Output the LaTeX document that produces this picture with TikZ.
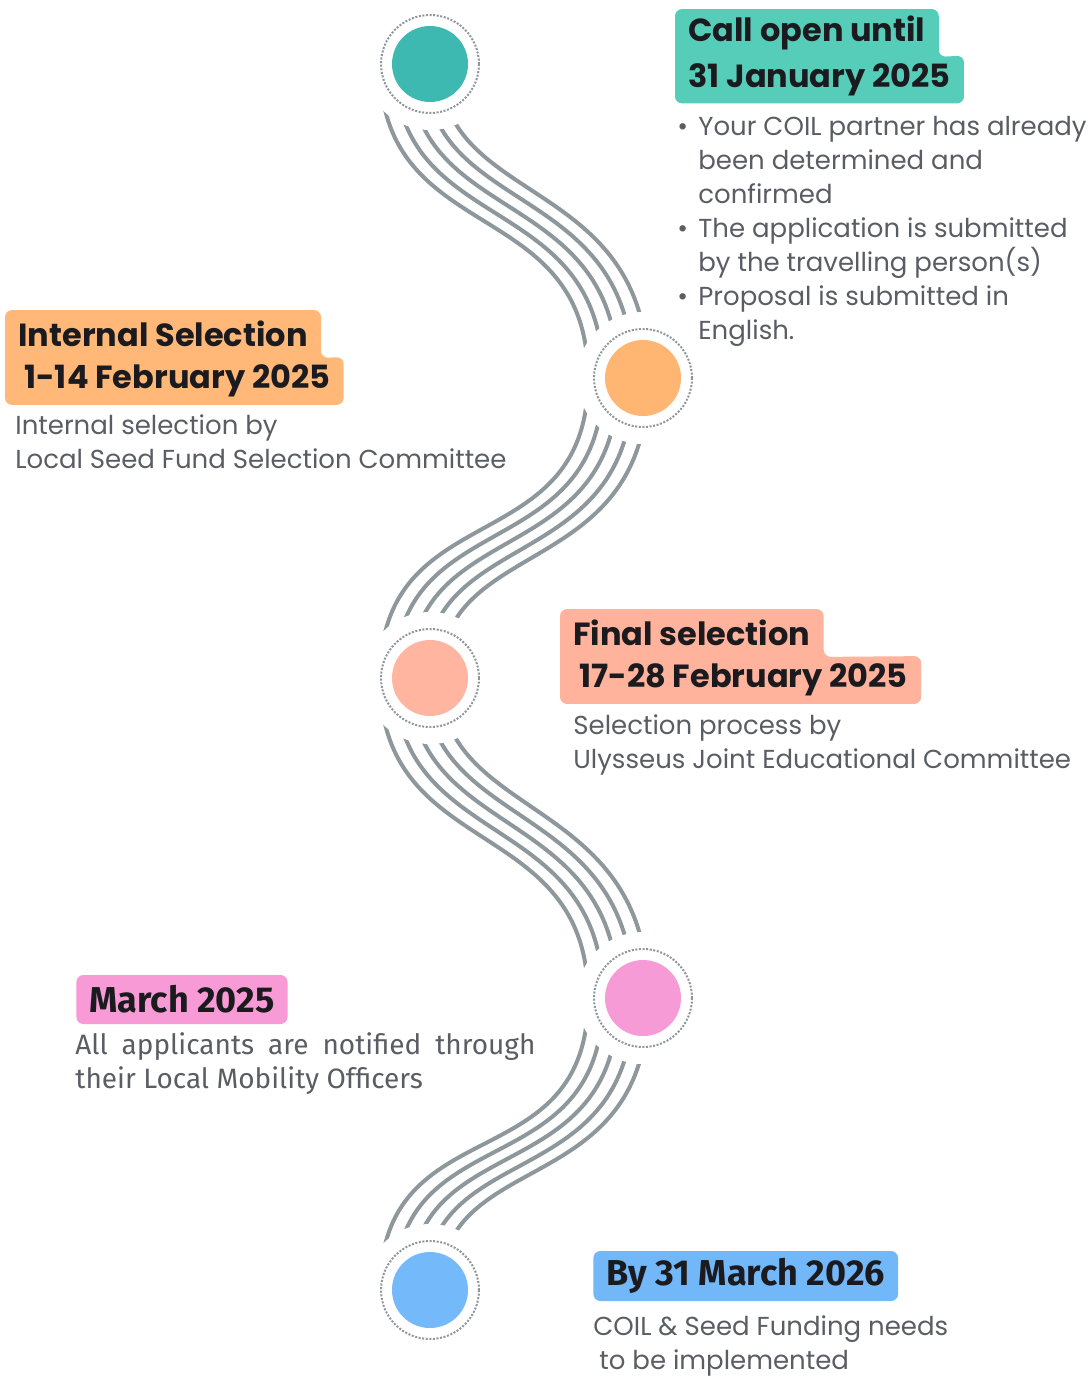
\documentclass[tikz,border=0pt]{standalone}
\usepackage{fontspec}
\setmainfont{Poppins}
\newfontfamily\firafont{Fira Sans}
\usetikzlibrary{calc, backgrounds}

\definecolor{bandgray}{HTML}{8E979B}
\definecolor{ringgray}{HTML}{8F979B}
\definecolor{ink}{HTML}{1B1B1F}
\definecolor{bodyink}{HTML}{5B5D64}
\definecolor{tealdot}{HTML}{3DB9B1}
\definecolor{tealbox}{HTML}{55CDB9}
\definecolor{orangedot}{HTML}{FFB672}
\definecolor{orangebox}{HTML}{FFB877}
\definecolor{salmondot}{HTML}{FFB59F}
\definecolor{salmonbox}{HTML}{FFB29C}
\definecolor{pinkdot}{HTML}{F79BD7}
\definecolor{pinkbox}{HTML}{F79AD5}
\definecolor{bluedot}{HTML}{74B9F9}
\definecolor{bluebox}{HTML}{72B7F8}

% five parallel strands between a left dot and a right dot
% #1 left dot, #2 right dot, #3 = 1 if the left dot is on top, -1 if below
\newcommand{\wavyband}[3]{%
  \foreach \d in {-30,-15,0,15,30}{
    \draw[band] ($(#1)+({(\d)-20},0)$)
      .. controls ($(#1)+({(\d)-20},{(#3)*(165-0.667*(\d))})$)
      and ($(#2)+({(\d)-25},{0-(#3)*(195+0.333*(\d))})$)
      .. ($(#2)+({(\d)-25},0)$);
  }}

\begin{document}
\begin{tikzpicture}[x=0.5pt, y=-0.5pt,
  band/.style={draw=bandgray, line width=2pt},
  ring/.style={draw=ringgray, line width=1pt, dash pattern=on 1pt off 0.8pt},
  dot/.style={circle, minimum size=38pt, inner sep=0pt},
  tline/.style={anchor=west, font=\bfseries\fontsize{16}{19}\selectfont, text=ink,
    inner xsep=6.5pt, inner ysep=0pt, minimum height=23.5pt},
  tfira/.style={tline, font=\firafont\bfseries\fontsize{18}{21}\selectfont},
  body/.style={anchor=base west, align=left, font=\fontsize{13}{17}\selectfont,
    text=bodyink, inner sep=0pt},
]
\useasboundingbox (0,0) rectangle (1089,1376);

% stage dots
\node[dot, fill=tealdot]   (c1) at (430,64)   {};
\node[dot, fill=orangedot] (c2) at (643,378)  {};
\node[dot, fill=salmondot] (c3) at (430,678)  {};
\node[dot, fill=pinkdot]   (c4) at (643,998)  {};
\node[dot, fill=bluedot]   (c5) at (430,1290) {};
\foreach \n in {1,...,5}
  \draw[ring] (c\n) circle (49);

% wavy strands, cut short round the dots
\begin{scope}[on background layer]
  \wavyband{c1}{c2}{1}
  \wavyband{c3}{c2}{-1}
  \wavyband{c3}{c4}{1}
  \wavyband{c5}{c4}{-1}
  \foreach \n in {1,...,5}
    \fill[white] (c\n) circle (66);
\end{scope}

% call open (base = last line)
\node[tline] (t1a) at (675,33)   {Call open until};
\node[tline] (t1b) at (675,79.5) {31 January 2025};
\node[body] (b1) at (677,339) {\makebox[10.5pt][l]{\textbullet}Your COIL partner has already\\
  \hspace*{10.5pt}been determined and\\
  \hspace*{10.5pt}confirmed\\
  \makebox[10.5pt][l]{\textbullet}The application is submitted\\
  \hspace*{10.5pt}by the travelling person(s)\\
  \makebox[10.5pt][l]{\textbullet}Proposal is submitted in\\
  \hspace*{10.5pt}English.};

% internal selection
\node[tline] (t2a) at (5,334) {Internal Selection};
\node[tline] (t2b) at (5,381) {\hspace*{3pt}1-14 February 2025};
\node[body] (b2) at (15,468) {Internal selection by\\Local Seed Fund Selection Committee};

% final selection
\node[tline] (t3a) at (560,633) {Final selection};
\node[tline] (t3b) at (560,680) {\hspace*{3pt}17-28 February 2025};
\node[body] (b3) at (573,768) {Selection process by\\Ulysseus Joint Educational Committee};

% notification
\node[tfira, fill=pinkbox, rounded corners=3.5pt, minimum height=24.5pt] (t4) at (76,999.5) {March 2025};
\node[body, font=\firafont\fontsize{14}{17}\selectfont] (b4) at (75,1088)
  {\makebox[230pt][s]{All applicants are notified through}\\their Local Mobility Officers};

% implementation
\node[tfira, fill=bluebox, rounded corners=3.5pt, minimum height=25pt] (t5) at (593,1276) {By 31 March 2026};
\node[body] (b5) at (593,1369) {COIL \& Seed Funding needs\\\hspace*{3pt}to be implemented};

% highlight behind the two-line titles
\begin{scope}[on background layer, rounded corners=3.5pt]
  \fill[tealbox] (t1a.north west) -- (t1a.north east) -- (t1a.south east)
    -- (t1b.north east) -- (t1b.south east) -- (t1b.south west) -- cycle;
  \fill[orangebox] (t2a.north west) -- (t2a.north east) -- (t2a.south east)
    -- (t2b.north east) -- (t2b.south east) -- (t2b.south west) -- cycle;
  \fill[salmonbox] (t3a.north west) -- (t3a.north east) -- (t3a.south east)
    -- (t3b.north east) -- (t3b.south east) -- (t3b.south west) -- cycle;
\end{scope}
\end{tikzpicture}
\end{document}
